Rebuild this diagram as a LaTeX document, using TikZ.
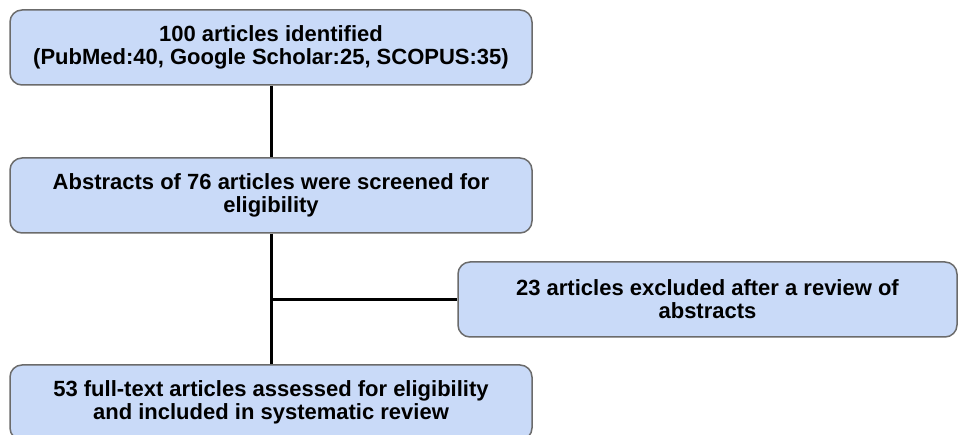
\documentclass[tikz,border=0pt]{standalone}
\usepackage{fontspec}
\setmainfont{Liberation Sans}
\definecolor{boxblue}{HTML}{C9DAF8}
\definecolor{boxline}{HTML}{6B6B6B}
\tikzset{flowbox/.style={draw=boxline, line width=1.5pt, fill=boxblue, rounded corners=12pt,
  minimum width=522pt, minimum height=75pt, align=center, inner sep=0pt,
  font=\fontsize{22}{23}\selectfont\bfseries}}
\begin{document}
\begin{tikzpicture}[x=1pt,y=-1pt]
\useasboundingbox (0,0) rectangle (962,435);
\clip (0,0) rectangle (962,435);
\fill[white] (0,0) rectangle (962,435);
\node[flowbox] (ident) at (271,47.5) {100 articles identified\\(PubMed:40, Google Scholar:25, SCOPUS:35)};
\node[flowbox] (screen) at (271,195.5) {Abstracts of 76 articles were screened for\\eligibility};
\node[flowbox, minimum width=499pt] (excl) at (707.5,299.5) {23 articles excluded after a review of\\abstracts};
\node[flowbox] (full) at (271,402.5) {53 full-text articles assessed for eligibility\\and included in systematic review};
\coordinate (junc) at (screen.south |- excl.west);
\draw[line width=3pt] (ident) -- (screen);
\draw[line width=3pt] (screen) -- (full);
\draw[line width=3pt] (junc) -- (excl);
\end{tikzpicture}
\end{document}
